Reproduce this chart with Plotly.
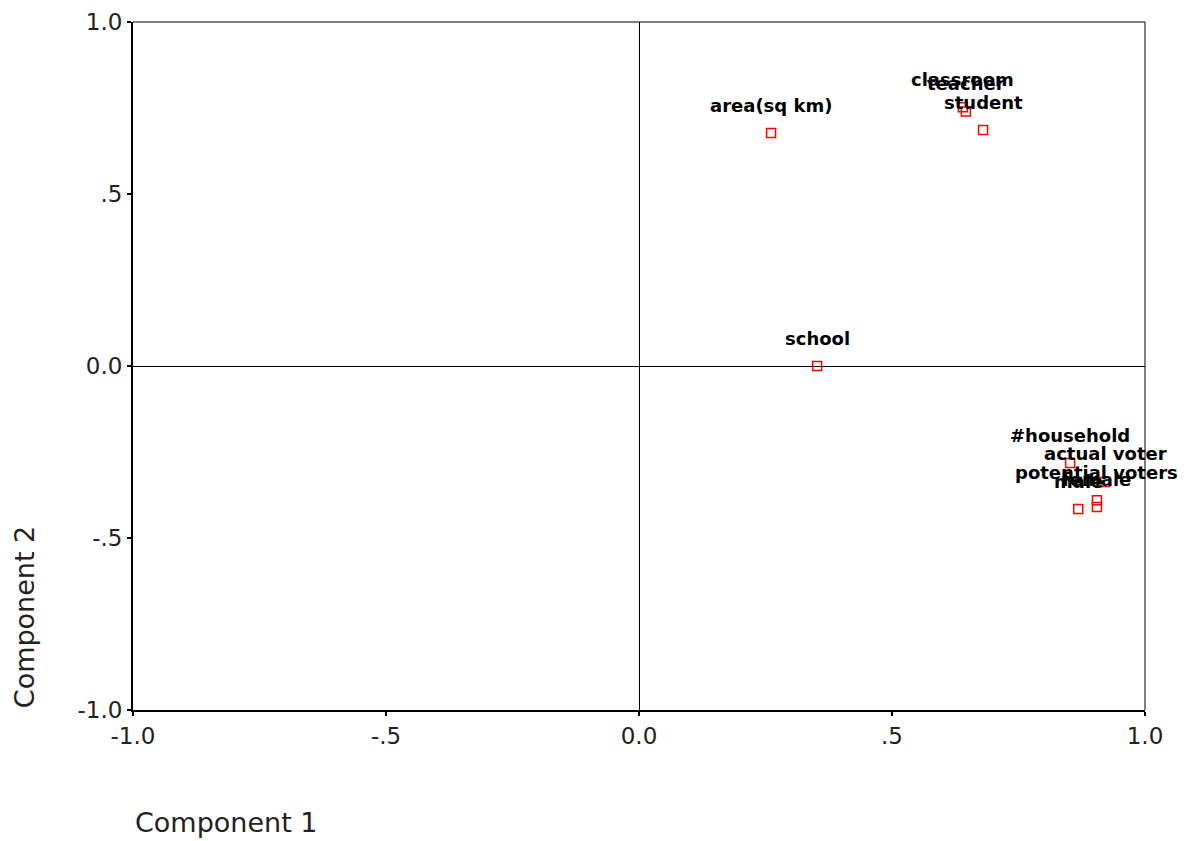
import plotly.graph_objects as go

labels = ["area(sq km)", "school", "classroom", "teacher", "student",
          "#household", "actual voter", "potential voters", "male", "female"]
comp1 = [0.261, 0.352, 0.640, 0.646, 0.680, 0.852, 0.921, 0.905, 0.868, 0.905]
comp2 = [0.677, 0.000, 0.752, 0.740, 0.686, -0.282, -0.337, -0.390, -0.416, -0.410]

tick_vals = [-1.0, -0.5, 0.0, 0.5, 1.0]
tick_text = ["-1.0", "-.5", "0.0", ".5", "1.0"]

fig = go.Figure()
fig.add_trace(go.Scatter(
    x=comp1, y=comp2, mode="markers",
    marker=dict(symbol="square-open", size=9, color="#ff0000", line=dict(width=1.5, color="#ff0000")),
    hoverinfo="text", text=labels, showlegend=False,
))

for lab, xv, yv in zip(labels, comp1, comp2):
    fig.add_annotation(x=xv, y=yv, text=lab, showarrow=False, yshift=28,
                       xanchor="center", yanchor="middle",
                       font=dict(family="DejaVu Sans", size=18, color="black", weight="bold"))

axis_common = dict(range=[-1, 1], tickvals=tick_vals, ticktext=tick_text,
                   showgrid=False, zeroline=True, zerolinecolor="black", zerolinewidth=1,
                   showline=True, linecolor="black", linewidth=2,
                   ticks="outside", ticklen=4, tickwidth=2, tickcolor="black",
                   automargin=False,
                   tickfont=dict(family="DejaVu Sans", size=23, color="#222"))

fig.update_xaxes(**axis_common)
fig.update_yaxes(**axis_common)

fig.add_shape(type="line", xref="paper", yref="paper", x0=0, x1=1, y0=1, y1=1,
              line=dict(color="black", width=1))
fig.add_shape(type="line", xref="paper", yref="paper", x0=1, x1=1, y0=0, y1=1,
              line=dict(color="black", width=1))

fig.add_annotation(xref="paper", yref="paper", x=0, y=-0.163, text="Component 1",
                   showarrow=False, xanchor="left", yanchor="middle",
                   font=dict(family="DejaVu Sans", size=27, color="#222"))
fig.add_annotation(xref="paper", yref="paper", x=-0.107, y=0, text="Component 2",
                   showarrow=False, textangle=-90, xanchor="center", yanchor="bottom",
                   font=dict(family="DejaVu Sans", size=27, color="#222"))

fig.update_layout(width=1196, height=841, margin=dict(l=125, r=59, t=14, b=139),
                  plot_bgcolor="white", paper_bgcolor="white")

fig.write_html("out.html")
